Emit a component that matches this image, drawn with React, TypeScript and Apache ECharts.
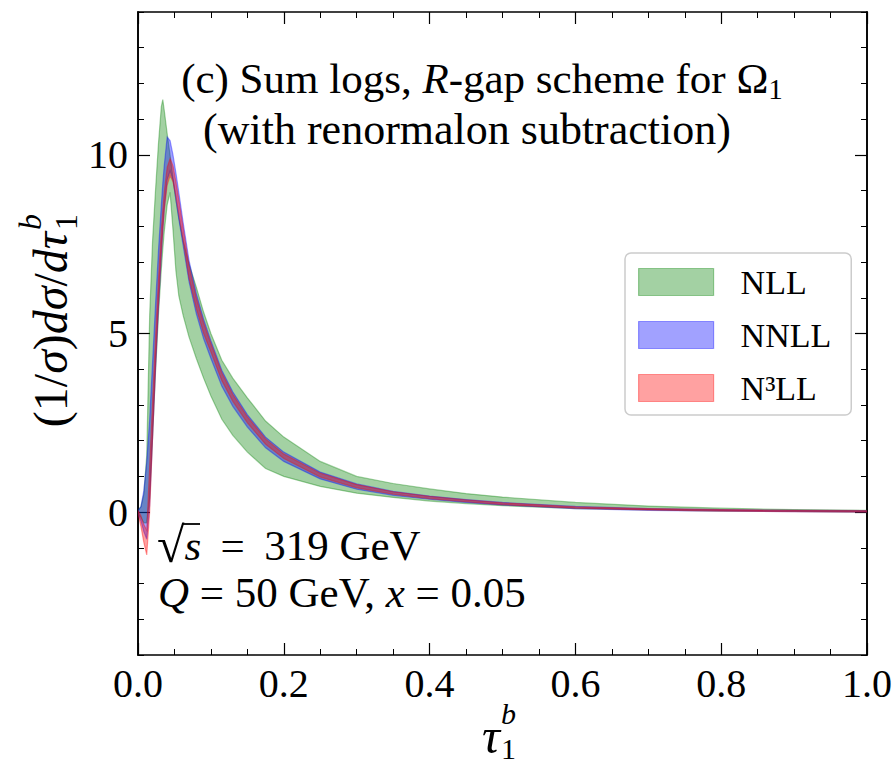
import React, { useEffect, useRef } from "react";
import * as echarts from "echarts";

// tau_1^b grid
const tau = [0, 0.004, 0.008, 0.012, 0.016, 0.02, 0.024, 0.028, 0.032, 0.034, 0.036, 0.04, 0.044, 0.048, 0.052, 0.056, 0.062, 0.07, 0.08, 0.09, 0.1, 0.115, 0.13, 0.15, 0.175, 0.2, 0.25, 0.3, 0.35, 0.4, 0.45, 0.5, 0.6, 0.7, 0.8, 0.9, 1.0];

// NLL band
const nllHi = [0.05, 0.15, 0.5, 1.6, 5.5, 7.6, 9.0, 10.3, 11.35, 11.55, 11.25, 10.6, 10.0, 9.35, 8.75, 8.25, 7.6, 6.95, 6.3, 5.6, 5.0, 4.25, 3.75, 3.2, 2.55, 2.1, 1.42, 1.0, 0.8, 0.65, 0.52, 0.42, 0.27, 0.17, 0.11, 0.07, 0.05];
const nllLo = [-0.05, -0.15, -0.3, -0.3, 0.4, 2.1, 3.9, 5.5, 6.8, 7.35, 7.85, 8.6, 8.95, 7.9, 6.75, 6.05, 5.5, 4.9, 4.3, 3.75, 3.25, 2.6, 2.15, 1.68, 1.22, 1.0, 0.72, 0.53, 0.41, 0.31, 0.24, 0.18, 0.1, 0.06, 0.03, 0.02, 0.0];

// NNLL band
const nnllHi = [0.05, 0.15, 0.6, 1.4, 2.6, 4.2, 5.8, 7.3, 8.6, 9.2, 9.7, 10.5, 10.4, 10.0, 9.5, 8.95, 8.1, 7.05, 6.12, 5.4, 4.8, 3.97, 3.37, 2.73, 2.1, 1.68, 1.12, 0.79, 0.58, 0.45, 0.35, 0.27, 0.16, 0.1, 0.07, 0.05, 0.04];
const nnllLo = [-0.05, -0.25, -0.55, -0.76, 0.2, 2.1, 4.0, 5.7, 7.2, 7.9, 8.5, 9.3, 9.55, 9.3, 8.75, 8.2, 7.45, 6.45, 5.55, 4.85, 4.3, 3.52, 2.96, 2.38, 1.8, 1.42, 0.93, 0.64, 0.47, 0.36, 0.27, 0.2, 0.1, 0.05, 0.03, 0.01, 0.0];

// N3LL band
const n3llHi = [0.05, -0.1, -0.35, -0.5, 1.3, 3.1, 4.9, 6.5, 7.9, 8.45, 8.95, 9.65, 9.9, 9.7, 9.25, 8.75, 7.95, 6.9, 6.0, 5.3, 4.72, 3.9, 3.3, 2.67, 2.05, 1.63, 1.09, 0.77, 0.57, 0.44, 0.34, 0.26, 0.15, 0.1, 0.07, 0.05, 0.04];
const n3llLo = [-0.05, -0.4, -0.85, -1.2, 0.0, 2.1, 4.1, 5.8, 7.3, 7.9, 8.45, 9.15, 9.42, 9.25, 8.85, 8.35, 7.6, 6.55, 5.7, 5.0, 4.48, 3.68, 3.1, 2.5, 1.9, 1.5, 0.98, 0.68, 0.5, 0.38, 0.29, 0.21, 0.11, 0.06, 0.03, 0.01, 0.0];

const seriesNames = ["NLL", "NNLL", "N³LL"];
const yMajorTicks = [0, 5, 10];

const SERIF = "'Liberation Serif', 'DejaVu Serif', serif";
const GREEN = "rgba(0,128,0,0.36)";
const BLUE = "rgba(0,0,255,0.37)";
const RED = "rgba(255,0,0,0.37)";

function band(name: string, lo: number[], hi: number[], fill: string) {
  return {
    type: "custom",
    name,
    coordinateSystem: "cartesian2d",
    xAxisIndex: 0,
    yAxisIndex: 0,
    clip: true,
    itemStyle: { color: fill },
    data: tau.map((t, i) => [t, lo[i], hi[i]]),
    encode: { x: 0, y: [1, 2] },
    renderItem: (params: any, api: any) => {
      if (params.dataIndex !== 0) return null;
      const pts: number[][] = [];
      for (let i = 0; i < tau.length; i++) pts.push(api.coord([tau[i], hi[i]]));
      for (let i = tau.length - 1; i >= 0; i--) pts.push(api.coord([tau[i], lo[i]]));
      return {
        type: "polygon",
        shape: { points: pts },
        style: { fill, stroke: fill, lineWidth: 1.2 },
      };
    },
  };
}

const txt = (size: number, italic = false) => ({
  fontFamily: SERIF,
  fontSize: size,
  fontStyle: italic ? "italic" : "normal",
  color: "#000",
  fill: "#000",
});

const al = (h: string) => ({ align: h, textAlign: h, verticalAlign: "middle", textVerticalAlign: "middle" });

export default function App() {
  const ref = useRef<HTMLDivElement>(null);
  useEffect(() => {
    if (!ref.current) return;
    const chart = echarts.init(ref.current, undefined, { renderer: "svg" });
    const axisLine = { show: true, onZero: false, lineStyle: { color: "#000", width: 1.6 } };
    const xBase = {
      type: "value",
      min: 0,
      max: 1,
      interval: 0.2,
      axisLine,
      axisTick: { show: true, inside: true, length: 12, lineStyle: { color: "#000", width: 1.2 } },
      minorTick: { show: true, splitNumber: 4, length: 6, lineStyle: { color: "#000", width: 1 } },
      splitLine: { show: false },
      minorSplitLine: { show: false },
    };
    const yMajor = {
      type: "value",
      min: -4,
      max: 14,
      axisLine,
      axisTick: { show: true, inside: true, length: 12, customValues: yMajorTicks, lineStyle: { color: "#000", width: 1.2 } },
      splitLine: { show: false },
    };
    const yMinor = {
      type: "value",
      min: -4,
      max: 14,
      interval: 1,
      axisLine,
      axisTick: { show: true, inside: true, length: 6, lineStyle: { color: "#000", width: 1 } },
      axisLabel: { show: false },
      splitLine: { show: false },
    };
    const rich = {
      n: { ...txt(43), lineHeight: 50 },
      i: { ...txt(43, true), lineHeight: 50 },
      s: { ...txt(29), lineHeight: 30, verticalAlign: "bottom" },
    };
    const richA = {
      n: { ...txt(43), lineHeight: 50 },
      i: { ...txt(43, true), lineHeight: 50 },
      r: { ...txt(50), lineHeight: 50 },
    };
    const richY = {
      n: { ...txt(48), lineHeight: 52 },
      i: { ...txt(48, true), lineHeight: 52 },
    };
    const option: any = {
      animation: false,
      backgroundColor: "#fff",
      grid: { left: 138, top: 12, width: 732, height: 643, containLabel: false },
      xAxis: [
        {
          ...xBase,
          position: "bottom",
          axisLabel: { show: true, margin: 8, fontFamily: SERIF, fontSize: 40, color: "#000", formatter: (v: number) => v.toFixed(1) },
        },
        { ...xBase, position: "top", axisLabel: { show: false } },
      ],
      yAxis: [
        {
          ...yMajor,
          position: "left",
          axisLabel: { show: true, customValues: yMajorTicks, margin: 10, fontFamily: SERIF, fontSize: 40, color: "#000" },
        },
        { ...yMinor, position: "left" },
        { ...yMajor, position: "right", axisLabel: { show: false } },
        { ...yMinor, position: "right" },
      ],
      legend: {
        orient: "vertical",
        left: 625,
        top: 253,
        padding: [12, 20, 10, 13],
        itemWidth: 75,
        itemHeight: 27,
        itemGap: 19,
        backgroundColor: "#fff",
        borderColor: "#cccccc",
        borderWidth: 1.5,
        borderRadius: 6,
        selectedMode: false,
        textStyle: { fontFamily: SERIF, fontSize: 34, color: "#000", padding: [0, 0, 0, 22] },
        data: [
          { name: seriesNames[0], icon: "rect", itemStyle: { color: GREEN, borderColor: GREEN, borderWidth: 1.2 } },
          { name: seriesNames[1], icon: "rect", itemStyle: { color: BLUE, borderColor: BLUE, borderWidth: 1.2 } },
          { name: seriesNames[2], icon: "rect", itemStyle: { color: RED, borderColor: RED, borderWidth: 1.2 } },
        ],
      },
      series: [
        band(seriesNames[0], nllLo, nllHi, GREEN),
        band(seriesNames[1], nnllLo, nnllHi, BLUE),
        band(seriesNames[2], n3llLo, n3llHi, RED),
      ],
      graphic: [
        {
          type: "text",
          x: 482,
          y: 78,
          style: { text: "{n|(c) Sum logs, }{i|R}{n|-gap scheme for Ω}{s|1}", rich, ...al("center") },
        },
        {
          type: "text",
          x: 467,
          y: 129,
          style: { text: "{n|(with renormalon subtraction)}", rich: { n: { ...txt(44), lineHeight: 50 } }, ...al("center") },
        },
        {
          type: "text",
          x: 157,
          y: 545,
          style: { text: "{r|√}{i|s}{n| \u2009= \u2009319 GeV}", rich: richA, ...al("left") },
        },
        {
          type: "line",
          shape: { x1: 183, y1: 524, x2: 200, y2: 524 },
          style: { stroke: "#000", lineWidth: 1.8 },
        },
        {
          type: "text",
          x: 158,
          y: 592,
          style: { text: "{i|Q}{n| = 50 GeV, }{i|x}{n| = 0.05}", rich: richA, ...al("left") },
        },
        // y-axis title
        {
          type: "group",
          x: 50,
          y: 232,
          rotation: Math.PI / 2,
          children: [
            {
              type: "text",
              x: 0,
              y: 0,
              style: { text: "{n|(1/}{i|σ}{n|)}{i|dσ}{n|/}{i|dτ}", rich: richY, ...al("right") },
            },
            { type: "text", x: 2, y: -20, style: { text: "b", ...txt(32, true), ...al("left") } },
            { type: "text", x: 2, y: 16, style: { text: "1", ...txt(32), ...al("left") } },
          ],
        },
        // x-axis title
        {
          type: "group",
          x: 500,
          y: 736,
          children: [
            { type: "text", x: 0, y: 0, style: { text: "τ", ...txt(50, true), ...al("right") } },
            { type: "text", x: 1, y: -23, style: { text: "b", ...txt(30, true), ...al("left") } },
            { type: "text", x: 1, y: 12, style: { text: "1", ...txt(30), ...al("left") } },
          ],
        },
      ],
    };
    chart.setOption(option);
    return () => chart.dispose();
  }, []);
  return (
    <div
      ref={ref}
      style={{ position: "absolute", left: 0, top: 0, width: 895, height: 768, background: "#fff" }}
    />
  );
}
